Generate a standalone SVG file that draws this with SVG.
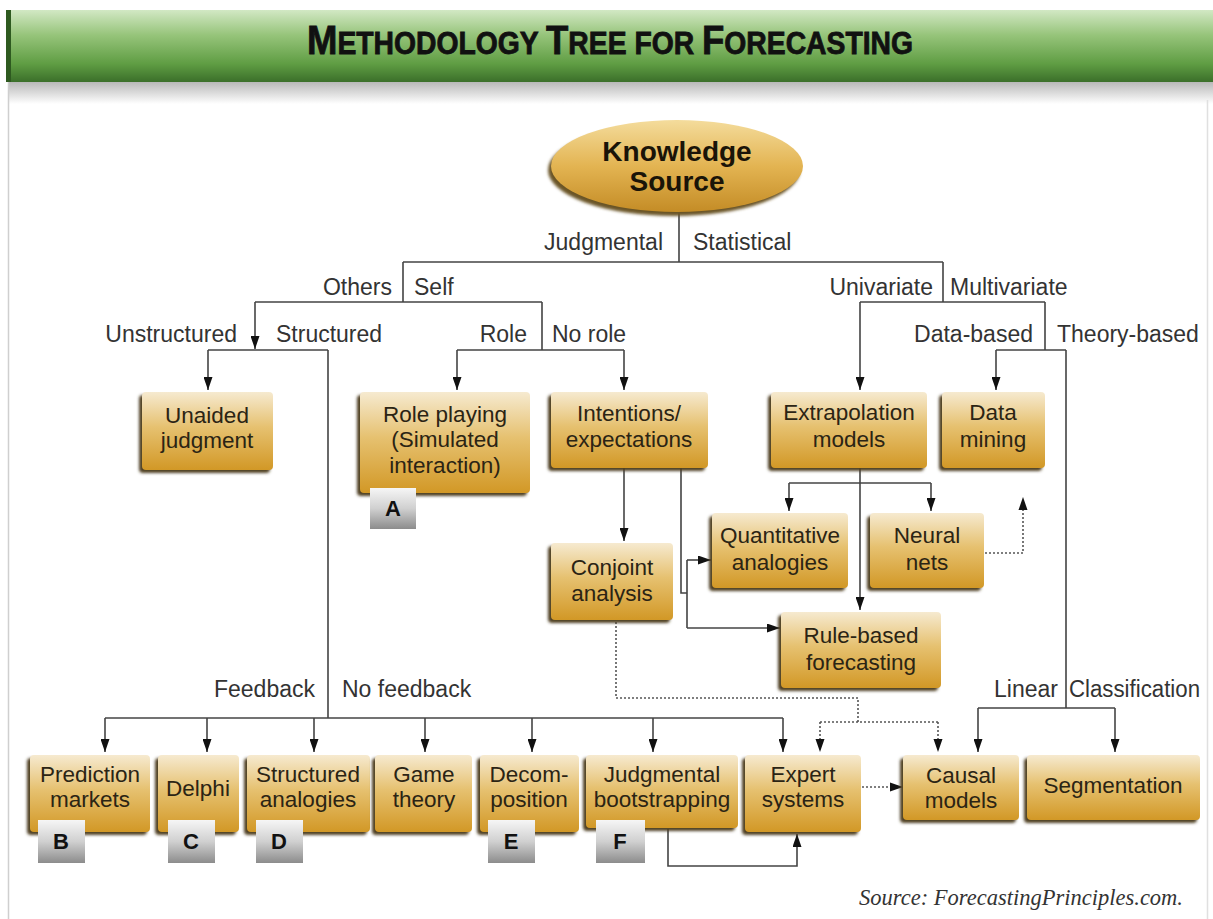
<svg xmlns="http://www.w3.org/2000/svg" width="1213" height="919" viewBox="0 0 1213 919">
<defs>
<linearGradient id="gBar" x1="0" y1="0" x2="0" y2="1">
<stop offset="0" stop-color="#d2e8c4"/>
<stop offset="0.35" stop-color="#96c47a"/>
<stop offset="0.75" stop-color="#5f9d43"/>
<stop offset="1" stop-color="#3b6f2a"/>
</linearGradient>
<linearGradient id="gBarSh" x1="0" y1="0" x2="0" y2="1">
<stop offset="0" stop-color="#b8b8b8"/>
<stop offset="1" stop-color="#ffffff"/>
</linearGradient>
<linearGradient id="gBox" x1="0" y1="0" x2="0" y2="1">
<stop offset="0" stop-color="#f6ead0"/>
<stop offset="0.45" stop-color="#e6c170"/>
<stop offset="1" stop-color="#d29826"/>
</linearGradient>
<linearGradient id="gEll" x1="0" y1="0" x2="0" y2="1">
<stop offset="0" stop-color="#f4dc9c"/>
<stop offset="0.5" stop-color="#e3b452"/>
<stop offset="1" stop-color="#c48c26"/>
</linearGradient>
<linearGradient id="gBadge" x1="0" y1="0" x2="0" y2="1">
<stop offset="0" stop-color="#f6f6f6"/>
<stop offset="0.5" stop-color="#d0d0d0"/>
<stop offset="1" stop-color="#8c8c8c"/>
</linearGradient>
<filter id="blur" x="-10%" y="-10%" width="120%" height="130%"><feGaussianBlur stdDeviation="1.6"/></filter>
<marker id="ar" viewBox="0 0 13 9" refX="13" refY="4.5" markerWidth="13" markerHeight="9" markerUnits="userSpaceOnUse" orient="auto">
<path d="M0,0 L13,4.5 L0,9 z" fill="#111"/>
</marker>
</defs>
<style>
.lbl{font-family:"Liberation Sans",Arial,sans-serif;font-size:23px;fill:#333}
.bt{font-family:"Liberation Sans",Arial,sans-serif;font-size:22.5px;fill:#2b2414;text-anchor:middle}
.bx{fill:url(#gBox)}
.sh{fill:#4f3f22;filter:url(#blur)}
.bd{fill:url(#gBadge)}
.bl{font-family:"Liberation Sans",Arial,sans-serif;font-size:22px;font-weight:bold;fill:#111;text-anchor:middle}
.ln{fill:none;stroke:#444;stroke-width:1.6}
.ar{marker-end:url(#ar)}
.dt{fill:none;stroke:#555;stroke-width:1.6;stroke-dasharray:2 2}
</style>
<rect width="1213" height="919" fill="#ffffff"/>
<g id="title">
<rect x="8" y="82" width="1205" height="22" fill="url(#gBarSh)"/>
<rect x="6" y="10" width="1207" height="72" fill="url(#gBar)"/>
<rect x="6" y="10" width="5" height="72" fill="#2e5a20"/>
<text x="610" y="54" text-anchor="middle" textLength="606" lengthAdjust="spacingAndGlyphs" stroke="#111" stroke-width="0.8" style="font-family:'Liberation Sans Narrow','Liberation Sans',Arial,sans-serif;font-weight:bold;fill:#111"><tspan font-size="40">M</tspan><tspan font-size="31">ETHODOLOGY </tspan><tspan font-size="40">T</tspan><tspan font-size="31">REE FOR </tspan><tspan font-size="40">F</tspan><tspan font-size="31">ORECASTING</tspan></text>
</g>
<g id="frame">
<line x1="8.5" y1="82" x2="8.5" y2="919" stroke="#cfcfcf" stroke-width="1.5"/>
<line x1="1207.5" y1="100" x2="1207.5" y2="919" stroke="#e0e0e0" stroke-width="1.5"/>
</g>
<g id="connectors">
<path class="ln" d="M679,212 V262 M403,262 H943 M403,262 V302 M255,302 H542"/>
<path class="ln ar" d="M255,302 V349"/>
<path class="ln" d="M208,350 H328 M328,350 V718"/>
<path class="ln ar" d="M208,350 V390"/>
<path class="ln" d="M542,302 V350 M457,350 H624"/>
<path class="ln ar" d="M457,350 V390"/>
<path class="ln ar" d="M624,350 V390"/>
<path class="ln ar" d="M624,468 V541"/>
<path class="ln" d="M681,468 V593 H687 M687,560 V628"/>
<path class="ln ar" d="M687,560 H711"/>
<path class="ln ar" d="M687,628 H780"/>
<path class="ln" d="M943,262 V302 M860,302 H1045 M1045,302 V350 M996,350 H1066 M1066,350 V708 M978,708 H1115"/>
<path class="ln ar" d="M860,302 V390"/>
<path class="ln ar" d="M996,350 V390"/>
<path class="ln ar" d="M978,708 V752"/>
<path class="ln ar" d="M1115,708 V752"/>
<path class="ln ar" d="M860,468 V610"/>
<path class="ln" d="M789,483 H931"/>
<path class="ln ar" d="M789,483 V511"/>
<path class="ln ar" d="M931,483 V511"/>
<path class="dt" d="M985,553 H1023 V510"/>
<path d="M1023,497 L1027.5,510 L1018.5,510 z" fill="#111"/>
<path class="dt" d="M616,622 V698 H858 V722 M820,722 H938"/>
<path class="dt" d="M820,722 V740"/>
<path class="dt" d="M938,722 V740"/>
<path d="M820,752 L815.5,739 L824.5,739 z M938,752 L933.5,739 L942.5,739 z" fill="#111"/>
<path class="ln" d="M105,718 H783"/>
<path class="ln ar" d="M105,718 V752"/>
<path class="ln ar" d="M207,718 V752"/>
<path class="ln ar" d="M314,718 V752"/>
<path class="ln ar" d="M425,718 V752"/>
<path class="ln ar" d="M532,718 V752"/>
<path class="ln ar" d="M653,718 V752"/>
<path class="ln ar" d="M783,718 V752"/>
<path class="dt" d="M862,787 H892"/>
<path d="M903,787 L890,782.5 L890,791.5 z" fill="#111"/>
<path class="ln ar" d="M668,829 V866 H797 V834"/>
</g>
<g id="labels">
<text class="lbl" x="663" y="250" text-anchor="end">Judgmental</text>
<text class="lbl" x="693" y="250">Statistical</text>
<text class="lbl" x="392" y="295" text-anchor="end">Others</text>
<text class="lbl" x="414" y="295">Self</text>
<text class="lbl" x="237" y="342" text-anchor="end">Unstructured</text>
<text class="lbl" x="276" y="342">Structured</text>
<text class="lbl" x="527" y="342" text-anchor="end">Role</text>
<text class="lbl" x="552" y="342">No role</text>
<text class="lbl" x="933" y="295" text-anchor="end">Univariate</text>
<text class="lbl" x="950" y="295">Multivariate</text>
<text class="lbl" x="1033" y="342" text-anchor="end">Data-based</text>
<text class="lbl" x="1057" y="342">Theory-based</text>
<text class="lbl" x="315" y="697" text-anchor="end">Feedback</text>
<text class="lbl" x="342" y="697">No feedback</text>
<text class="lbl" x="1058" y="697" text-anchor="end">Linear</text>
<text class="lbl" x="1069" y="697" textLength="131" lengthAdjust="spacingAndGlyphs">Classification</text>
</g>
<g id="knowledge-source">
<ellipse cx="674" cy="170" rx="126" ry="46" fill="#6b5426" filter="url(#blur)"/>
<ellipse cx="677" cy="166" rx="126" ry="46" fill="url(#gEll)"/>
<text x="677" y="161" text-anchor="middle" style="font-family:'Liberation Sans',Arial,sans-serif;font-size:28px;font-weight:bold;fill:#1a1408">Knowledge</text>
<text x="677" y="191" text-anchor="middle" style="font-family:'Liberation Sans',Arial,sans-serif;font-size:28px;font-weight:bold;fill:#1a1408">Source</text>
</g>
<g id="unaided-judgment">
<rect class="sh" x="139" y="395" width="131" height="78" rx="4"/>
<rect class="bx" x="142" y="392" width="131" height="78" rx="4"/>
<text class="bt" x="207" y="423">Unaided</text>
<text class="bt" x="207" y="448">judgment</text>
</g>
<g id="role-playing">
<rect class="sh" x="357" y="395" width="170" height="101" rx="4"/>
<rect class="bx" x="360" y="392" width="170" height="101" rx="4"/>
<text class="bt" x="445" y="422">Role playing</text>
<text class="bt" x="445" y="447">(Simulated</text>
<text class="bt" x="445" y="473">interaction)</text>
<rect class="bd" x="370" y="488" width="46" height="41"/>
<text class="bl" x="393" y="516">A</text>
</g>
<g id="intentions">
<rect class="sh" x="548" y="395" width="157" height="76" rx="4"/>
<rect class="bx" x="551" y="392" width="157" height="76" rx="4"/>
<text class="bt" x="629" y="421">Intentions/</text>
<text class="bt" x="629" y="447">expectations</text>
</g>
<g id="extrapolation">
<rect class="sh" x="768" y="395" width="156" height="76" rx="4"/>
<rect class="bx" x="771" y="392" width="156" height="76" rx="4"/>
<text class="bt" x="849" y="420">Extrapolation</text>
<text class="bt" x="849" y="447">models</text>
</g>
<g id="data-mining">
<rect class="sh" x="939" y="395" width="103" height="76" rx="4"/>
<rect class="bx" x="942" y="392" width="103" height="76" rx="4"/>
<text class="bt" x="993" y="420">Data</text>
<text class="bt" x="993" y="447">mining</text>
</g>
<g id="quantitative-analogies">
<rect class="sh" x="709" y="516" width="136" height="75" rx="4"/>
<rect class="bx" x="712" y="513" width="136" height="75" rx="4"/>
<text class="bt" x="780" y="543">Quantitative</text>
<text class="bt" x="780" y="570">analogies</text>
</g>
<g id="neural-nets">
<rect class="sh" x="867" y="516" width="114" height="75" rx="4"/>
<rect class="bx" x="870" y="513" width="114" height="75" rx="4"/>
<text class="bt" x="927" y="543">Neural</text>
<text class="bt" x="927" y="570">nets</text>
</g>
<g id="conjoint-analysis">
<rect class="sh" x="548" y="546" width="122" height="77" rx="4"/>
<rect class="bx" x="551" y="543" width="122" height="77" rx="4"/>
<text class="bt" x="612" y="575">Conjoint</text>
<text class="bt" x="612" y="601">analysis</text>
</g>
<g id="rule-based">
<rect class="sh" x="778" y="615" width="160" height="76" rx="4"/>
<rect class="bx" x="781" y="612" width="160" height="76" rx="4"/>
<text class="bt" x="861" y="643">Rule-based</text>
<text class="bt" x="861" y="670">forecasting</text>
</g>
<g id="prediction-markets">
<rect class="sh" x="27" y="758" width="120" height="77" rx="4"/>
<rect class="bx" x="30" y="755" width="120" height="77" rx="4"/>
<text class="bt" x="90" y="782">Prediction</text>
<text class="bt" x="90" y="807">markets</text>
<rect class="bd" x="38" y="820" width="47" height="43"/>
<text class="bl" x="61" y="849">B</text>
</g>
<g id="delphi">
<rect class="sh" x="155" y="758" width="81" height="77" rx="4"/>
<rect class="bx" x="158" y="755" width="81" height="77" rx="4"/>
<text class="bt" x="198" y="796">Delphi</text>
<rect class="bd" x="168" y="820" width="47" height="43"/>
<text class="bl" x="191" y="849">C</text>
</g>
<g id="structured-analogies">
<rect class="sh" x="244" y="758" width="123" height="77" rx="4"/>
<rect class="bx" x="247" y="755" width="123" height="77" rx="4"/>
<text class="bt" x="308" y="782">Structured</text>
<text class="bt" x="308" y="807">analogies</text>
<rect class="bd" x="256" y="820" width="47" height="43"/>
<text class="bl" x="279" y="849">D</text>
</g>
<g id="game-theory">
<rect class="sh" x="372" y="758" width="97" height="77" rx="4"/>
<rect class="bx" x="375" y="755" width="97" height="77" rx="4"/>
<text class="bt" x="424" y="782">Game</text>
<text class="bt" x="424" y="807">theory</text>
</g>
<g id="decomposition">
<rect class="sh" x="477" y="758" width="99" height="77" rx="4"/>
<rect class="bx" x="480" y="755" width="99" height="77" rx="4"/>
<text class="bt" x="529" y="782">Decom-</text>
<text class="bt" x="529" y="807">position</text>
<rect class="bd" x="488" y="820" width="47" height="43"/>
<text class="bl" x="511" y="849">E</text>
</g>
<g id="judgmental-bootstrapping">
<rect class="sh" x="583" y="758" width="152" height="73" rx="4"/>
<rect class="bx" x="586" y="755" width="152" height="73" rx="4"/>
<text class="bt" x="662" y="782">Judgmental</text>
<text class="bt" x="662" y="807">bootstrapping</text>
<rect class="bd" x="596" y="820" width="49" height="43"/>
<text class="bl" x="620" y="849">F</text>
</g>
<g id="expert-systems">
<rect class="sh" x="742" y="758" width="116" height="77" rx="4"/>
<rect class="bx" x="745" y="755" width="116" height="77" rx="4"/>
<text class="bt" x="803" y="782">Expert</text>
<text class="bt" x="803" y="807">systems</text>
</g>
<g id="causal-models">
<rect class="sh" x="900" y="758" width="116" height="65" rx="4"/>
<rect class="bx" x="903" y="755" width="116" height="65" rx="4"/>
<text class="bt" x="961" y="783">Causal</text>
<text class="bt" x="961" y="808">models</text>
</g>
<g id="segmentation">
<rect class="sh" x="1024" y="758" width="173" height="65" rx="4"/>
<rect class="bx" x="1027" y="755" width="173" height="65" rx="4"/>
<text class="bt" x="1113" y="793">Segmentation</text>
</g>
<g id="source">
<text x="1183" y="905" text-anchor="end" style="font-family:'Liberation Serif','Times New Roman',serif;font-style:italic;font-size:22.5px;fill:#333">Source: ForecastingPrinciples.com.</text>
</g>
</svg>
